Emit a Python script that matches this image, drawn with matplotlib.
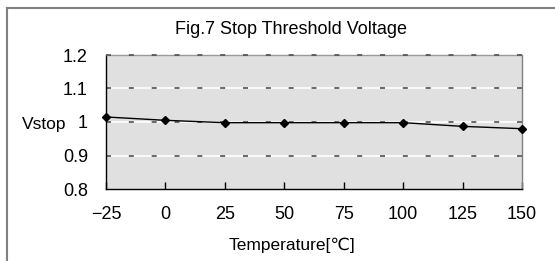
import matplotlib.pyplot as plt
from matplotlib.lines import Line2D

# datos
temperature = [-25, 0, 25, 50, 75, 100, 125, 150]
vstop = [1.015, 1.005, 0.998, 0.998, 0.998, 0.998, 0.987, 0.98]
y_ticks = [0.8, 0.9, 1.0, 1.1, 1.2]
y_labels = ['0.8', '0.9', '1', '1.1', '1.2']

plt.rcParams['font.family'] = ['Liberation Sans', 'DejaVu Sans']

fig = plt.figure(figsize=(5.55, 2.61), dpi=100)

# marco exterior (recortado a la derecha y abajo)
fig.add_artist(Line2D([7 / 555, 7 / 555], [0, 1 - 8 / 261], color='#808080', lw=1.5))
fig.add_artist(Line2D([7 / 555, 1], [1 - 8 / 261, 1 - 8 / 261], color='#808080', lw=1.5))

ax = fig.add_axes([106 / 555, 1 - 189 / 261, 416 / 555, 134 / 261])
ax.set_facecolor('#e0e0e0')

ax.plot(temperature, vstop, color='black', lw=1, marker='D', markersize=4.5, zorder=5, clip_on=False)

ax.set_xlim(-25, 150)
ax.set_ylim(0.8, 1.2)
ax.set_xticks(temperature)
ax.set_yticks(y_ticks)
ax.set_yticklabels(y_labels)

# líneas de cuadrícula: blancas con trazos oscuros cortos
for y in y_ticks[1:4]:
    ax.axhline(y, color='white', lw=1.2, zorder=1)
    ax.axhline(y, color='#505050', lw=1.2, ls=(0, (3, 10.7)), zorder=2)
ax.axhline(1.2, color='#505050', lw=1.2, ls=(0, (3, 10.7)), zorder=3, clip_on=False)

ax.spines['top'].set_color('#9a9a9a')
ax.spines['right'].set_color('#808080')
ax.spines['left'].set_color('black')
ax.spines['bottom'].set_color('black')
for s in ax.spines.values():
    s.set_linewidth(1)

ax.tick_params(axis='x', direction='in', length=5, width=1, pad=12, labelsize=13)
ax.tick_params(axis='y', length=0, pad=13, labelsize=13)

fig.text(229 / 555, 1 - 245 / 261, 'Temperature[℃]', fontsize=12.5, ha='left', va='center')
fig.text(22 / 555, 1 - 125 / 261, 'Vstop', fontsize=12.5, ha='left', va='center')
fig.text(291 / 555, 1 - 29 / 261, 'Fig.7 Stop Threshold Voltage', fontsize=13, ha='center', va='center')

plt.savefig('out.png', dpi=100)
